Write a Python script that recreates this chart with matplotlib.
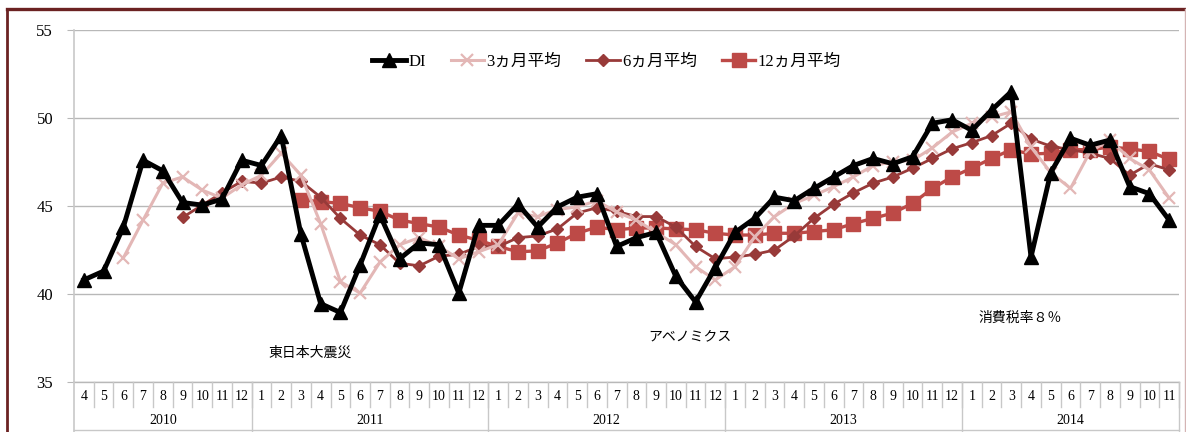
import numpy as np
import matplotlib
matplotlib.use("Agg")
import matplotlib.pyplot as plt
from matplotlib.lines import Line2D

# months shown on the axis, Apr 2010 .. Nov 2014
years = ["2010", "2011", "2012", "2013", "2014"]
year_months = [list(range(4, 13)), list(range(1, 13)), list(range(1, 13)),
               list(range(1, 13)), list(range(1, 12))]
month_labels = [str(m) for ms in year_months for m in ms]

di = [40.8, 41.3, 43.8, 47.6, 47.0, 45.2, 45.05, 45.4, 47.6, 47.3,
      49.0, 43.4, 39.45, 38.95, 41.65, 44.5, 42.0, 42.9, 42.8, 40.05,
      43.9, 43.9, 45.1, 43.8, 44.95, 45.5, 45.7, 42.7, 43.2, 43.5,
      41.0, 39.55, 41.5, 43.5, 44.3, 45.5, 45.3, 46.0, 46.65, 47.3,
      47.7, 47.4, 47.8, 49.7, 49.9, 49.3, 50.45, 51.5, 42.1, 46.9,
      48.85, 48.45, 48.75, 46.1, 45.7, 44.2]

avg3 = [None, None, 42.05, 44.2, 46.3, 46.65, 45.9, 45.45, 46.2, 46.75,
        48.0, 46.75, 44.0, 40.7, 40.05, 41.8, 42.8, 43.2, 42.7, 42.0,
        42.4, 42.8, 44.6, 44.4, 44.8, 44.95, 45.3, 44.65, 44.2, 43.5,
        42.8, 41.55, 40.8, 41.55, 43.25, 44.4, 45.15, 45.6, 46.1, 46.65,
        47.3, 47.5, 47.6, 48.3, 49.2, 49.7, 50.05, 50.35, 48.35, 46.9,
        46.0, 48.1, 48.75, 47.7, 47.05, 45.45]

avg6 = [None, None, None, None, None, 44.35, 45.05, 45.75, 46.4, 46.3,
        46.65, 46.4, 45.5, 44.3, 43.35, 42.8, 41.75, 41.6, 42.15, 42.25,
        42.7, 42.7, 43.2, 43.3, 43.7, 44.6, 44.9, 44.7, 44.4, 44.4,
        43.8, 42.7, 42.0, 42.1, 42.25, 42.5, 43.3, 44.3, 45.1, 45.75,
        46.3, 46.65, 47.15, 47.7, 48.25, 48.6, 49.0, 49.7, 48.8, 48.4,
        48.2, 48.0, 47.7, 46.75, 47.4, 47.05]

avg12 = [None] * 11 + [45.35, 45.25, 45.15, 44.9, 44.7, 44.2, 44.0, 43.8, 43.35,
        43.05, 42.7, 42.4, 42.45, 42.9, 43.45, 43.8, 43.65, 43.75, 43.75,
        43.7, 43.65, 43.45, 43.35, 43.35, 43.45, 43.45, 43.55, 43.65, 44.0,
        44.3, 44.6, 45.15, 46.0, 46.65, 47.15, 47.7, 48.2, 47.95, 48.0,
        48.2, 48.2, 48.35, 48.25, 48.1, 47.65]

notes = [("東日本大震災", 11.46, 36.65), ("アベノミクス", 30.72, 37.6),
         ("消費税率８％", 47.45, 38.64)]

serif = ["Liberation Serif", "Noto Sans CJK JP"]
jp = ["Noto Sans CJK JP", "DejaVu Sans"]


def arr(v):
    return np.array([np.nan if a is None else a for a in v], dtype=float)


x = np.arange(len(month_labels))

fig = plt.figure(figsize=(11.86, 4.32), dpi=100)
ax = fig.add_axes([74 / 1186, 1 - 382 / 432, 1105 / 1186, 352 / 432])

grid_c = "#b8b8b8"
ax.plot(x, arr(di), color="black", lw=3.5, marker="^", ms=10, label="DI", zorder=5)
ax.plot(x, arr(avg3), color="#e3b7b6", lw=2.2, marker="x", ms=9, mew=1.6,
        label="3ヵ月平均", zorder=4)
ax.plot(x, arr(avg6), color="#983a39", lw=2.0, marker="D", ms=6.5,
        label="6ヵ月平均", zorder=3)
ax.plot(x, arr(avg12), color="#bd4a47", lw=2.4, marker="s", ms=9.5,
        label="12ヵ月平均", zorder=2)

ax.set_xlim(-0.5, len(x) - 0.5)
ax.set_ylim(35, 55)
ax.set_yticks([35, 40, 45, 50, 55])
ax.set_yticklabels(["35", "40", "45", "50", "55"], family=serif, fontsize=12)
ax.tick_params(axis="y", length=5, color=grid_c, pad=10)
ax.set_xticks([])
ax.grid(axis="y", color=grid_c, lw=1)
ax.set_axisbelow(True)
for s in ["top", "right", "bottom"]:
    ax.spines[s].set_visible(False)
ax.spines["left"].set_color("#c8c8c8")
ax.spines["left"].set_linewidth(1.2)

# category table under the plot
trans = ax.get_xaxis_transform()
ax.plot([-0.5, len(x) - 0.5], [0, 0], color=grid_c, lw=1, transform=trans, clip_on=False)
ax.plot([-0.5, len(x) - 0.5], [-0.136, -0.136], color="#c8c8c8", lw=1,
        transform=trans, clip_on=False)
ax.plot([-0.5, -0.5], [0, -0.142], color="#c8c8c8", lw=1.2, transform=trans, clip_on=False)
for i, lab in enumerate(month_labels):
    ax.text(i, -0.04, lab, ha="center", va="center", fontsize=10, family=serif,
            transform=trans)
    ax.plot([i + 0.5, i + 0.5], [0, -0.072], color="#c8c8c8", lw=1,
            transform=trans, clip_on=False)
start = 0
for y, ms in zip(years, year_months):
    end = start + len(ms)
    ax.text((start + end - 1) / 2, -0.108, y, ha="center", va="center", fontsize=10,
            family=serif, transform=trans)
    ax.plot([end - 0.5, end - 0.5], [0, -0.142], color="#c8c8c8", lw=1,
            transform=trans, clip_on=False)
    start = end

for txt, tx, ty in notes:
    ax.text(tx, ty, txt, ha="center", va="center", fontsize=10, family=jp)

leg = ax.legend(loc="center", bbox_to_anchor=(0.482, 0.909), ncol=4, frameon=False,
                handlelength=2.0, columnspacing=1.5, handletextpad=0.15,
                prop={"family": serif, "size": 12})

# outer frame: dark top/left, light right
fig.add_artist(Line2D([7 / 1186, 1185 / 1186], [1 - 9 / 432, 1 - 9 / 432],
                      transform=fig.transFigure, color="#6b2222", lw=2.4))
fig.add_artist(Line2D([7 / 1186, 7 / 1186], [0, 1 - 9 / 432],
                      transform=fig.transFigure, color="#6b2222", lw=2.0))
fig.add_artist(Line2D([1184.5 / 1186, 1184.5 / 1186], [0, 1 - 9 / 432],
                      transform=fig.transFigure, color="#d4b4b4", lw=1.0))

fig.savefig("out.png", dpi=100)
